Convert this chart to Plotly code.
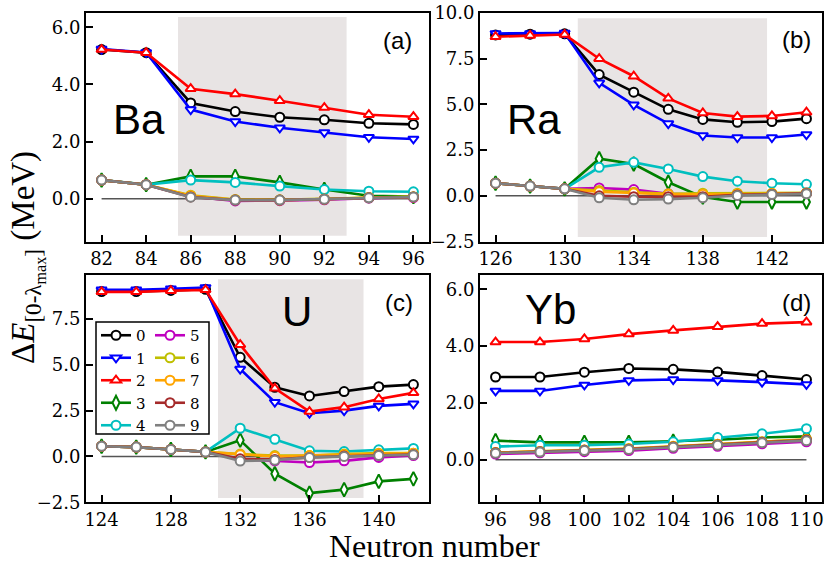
import plotly.graph_objects as go

# ---------------- data ----------------
levels = ["0", "1", "2", "3", "4", "5", "6", "7", "8", "9"]
colors = ["#000000", "#0000ff", "#ff0000", "#008000", "#00bfbf",
          "#bf00bf", "#bfbf00", "#ffa500", "#a52a2a", "#808080"]
symbols = ["circle", "triangle-down", "triangle-up", "diamond-tall", "circle",
           "circle", "circle", "circle", "circle", "circle"]

ba_n = [82, 84, 86, 88, 90, 92, 94, 96]
ba_de = [
    [5.22, 5.11, 3.35, 3.05, 2.85, 2.76, 2.64, 2.60],
    [5.24, 5.12, 3.12, 2.70, 2.48, 2.32, 2.15, 2.09],
    [5.22, 5.11, 3.85, 3.66, 3.43, 3.19, 2.94, 2.87],
    [0.65, 0.49, 0.78, 0.78, 0.57, 0.32, 0.10, 0.07],
    [0.65, 0.49, 0.65, 0.57, 0.44, 0.32, 0.26, 0.24],
    [0.65, 0.49, 0.08, -0.08, -0.07, -0.04, 0.02, 0.04],
    [0.65, 0.49, 0.12, -0.03, -0.04, -0.01, 0.04, 0.07],
    [0.65, 0.49, 0.10, -0.04, -0.05, -0.02, 0.04, 0.06],
    [0.65, 0.49, 0.06, -0.05, -0.05, -0.02, 0.03, 0.06],
    [0.65, 0.49, 0.05, -0.05, -0.05, -0.02, 0.03, 0.06],
]

ra_n = [126, 128, 130, 132, 134, 136, 138, 140, 142, 144]
ra_de = [
    [8.80, 8.84, 8.86, 6.63, 5.67, 4.73, 4.18, 4.02, 4.06, 4.22],
    [8.88, 8.88, 8.90, 6.18, 4.98, 3.95, 3.30, 3.19, 3.19, 3.35],
    [8.70, 8.77, 8.82, 7.50, 6.54, 5.33, 4.53, 4.33, 4.37, 4.57],
    [0.69, 0.53, 0.38, 2.03, 1.74, 0.74, -0.07, -0.34, -0.34, -0.34],
    [0.69, 0.53, 0.38, 1.56, 1.83, 1.47, 1.05, 0.80, 0.69, 0.63],
    [0.69, 0.53, 0.38, 0.43, 0.34, 0.11, 0.05, 0.05, 0.10, 0.15],
    [0.69, 0.53, 0.38, 0.29, 0.20, 0.11, 0.14, 0.14, 0.14, 0.16],
    [0.69, 0.53, 0.38, 0.22, 0.15, 0.08, 0.08, 0.10, 0.12, 0.14],
    [0.69, 0.53, 0.38, 0.00, -0.05, -0.05, -0.05, 0.05, 0.08, 0.13],
    [0.69, 0.53, 0.38, -0.11, -0.22, -0.18, -0.11, 0.02, 0.07, 0.11],
]

u_n = [124, 126, 128, 130, 132, 134, 136, 138, 140, 142]
u_de = [
    [9.00, 9.00, 9.06, 9.12, 5.41, 3.77, 3.30, 3.54, 3.81, 3.92],
    [9.09, 9.09, 9.15, 9.22, 4.77, 2.96, 2.36, 2.50, 2.76, 2.87],
    [8.98, 8.98, 9.04, 9.09, 6.10, 3.72, 2.45, 2.69, 3.14, 3.47],
    [0.56, 0.51, 0.38, 0.25, 0.89, -0.94, -2.00, -1.81, -1.36, -1.22],
    [0.56, 0.51, 0.38, 0.25, 1.54, 0.94, 0.31, 0.27, 0.36, 0.44],
    [0.56, 0.51, 0.38, 0.25, -0.16, -0.24, -0.33, -0.24, -0.05, 0.05],
    [0.56, 0.51, 0.38, 0.25, 0.13, 0.05, 0.05, 0.13, 0.18, 0.18],
    [0.56, 0.51, 0.38, 0.25, 0.10, 0.00, 0.05, 0.10, 0.15, 0.18],
    [0.56, 0.51, 0.38, 0.25, -0.13, -0.16, -0.05, 0.02, 0.07, 0.10],
    [0.56, 0.51, 0.38, 0.25, -0.25, -0.20, -0.05, 0.00, 0.05, 0.09],
]

yb_n = [96, 98, 100, 102, 104, 106, 108, 110]
yb_de = [
    [2.91, 2.91, 3.08, 3.21, 3.18, 3.09, 2.96, 2.82],
    [2.42, 2.42, 2.63, 2.79, 2.82, 2.79, 2.73, 2.65],
    [4.14, 4.14, 4.25, 4.42, 4.55, 4.68, 4.79, 4.84],
    [0.67, 0.61, 0.61, 0.61, 0.65, 0.70, 0.78, 0.82],
    [0.46, 0.51, 0.51, 0.55, 0.63, 0.78, 0.91, 1.09],
    [0.20, 0.24, 0.28, 0.32, 0.40, 0.47, 0.56, 0.63],
    [0.25, 0.29, 0.34, 0.39, 0.47, 0.54, 0.63, 0.72],
    [0.25, 0.29, 0.34, 0.38, 0.46, 0.54, 0.62, 0.71],
    [0.24, 0.28, 0.33, 0.37, 0.45, 0.52, 0.61, 0.69],
    [0.23, 0.27, 0.32, 0.36, 0.44, 0.51, 0.60, 0.67],
]

# shaded regions (x0, x1, y0, y1) in data units; None = no shading
ba_band = (85.43, 93.0, -1.3, 6.36)
ra_band = (130.76, 141.72, -2.25, 9.71)
u_band = (130.72, 139.12, -2.27, 9.67)
yb_band = None

ba_xticks = [82, 84, 86, 88, 90, 92, 94, 96]
ra_xticks = [126, 130, 134, 138, 142]
u_xticks = [124, 128, 132, 136, 140]
yb_xticks = [96, 98, 100, 102, 104, 106, 108, 110]
ba_yticks = [0.0, 2.0, 4.0, 6.0]
ra_yticks = [-2.5, 0.0, 2.5, 5.0, 7.5, 10.0]
u_yticks = [-2.5, 0.0, 2.5, 5.0, 7.5]
yb_yticks = [0.0, 2.0, 4.0, 6.0]

# ---------------- figure ----------------
W, H = 831, 566
SERIF = "Liberation Serif"
NUMSERIF = "DejaVu Serif"
SANS = "Liberation Sans"
TICKFONT = dict(family=NUMSERIF, size=18, color="black")

def px_x(p):
    return p / W

def px_y(p):
    return 1 - p / H

panels = [
    ("Ba", "(a)", ba_n, ba_de, ba_band, ba_xticks, ba_yticks, [81.3, 96.7], [-1.5, 6.5], (86, 429), (13, 241.5)),
    ("Ra", "(b)", ra_n, ra_de, ra_band, ra_xticks, ra_yticks, [125.1, 144.9], [-2.5, 10.0], (480, 822), (13, 241.5)),
    ("U", "(c)", u_n, u_de, u_band, u_xticks, u_yticks, [123.1, 142.9], [-2.5, 9.9], (86, 429), (275, 502.3)),
    ("Yb", "(d)", yb_n, yb_de, yb_band, yb_xticks, yb_yticks, [95.3, 110.7], [-1.5, 6.5], (480, 822), (275, 502.3)),
]

name_pos = {"Ba": (139, 120), "Ra": (534, 120), "U": (297, 311), "Yb": (550, 309)}
lab_pos = {"(a)": (397, 41), "(b)": (796, 39), "(c)": (399, 302), "(d)": (796, 302)}

fig = go.Figure()
shapes = []
annotations = []
axes = {}

for k, (name, lab, n, de, band, xt, yt, xr, yr, xd, yd) in enumerate(panels):
    sfx = "" if k == 0 else str(k + 1)
    xa, ya = "x" + sfx, "y" + sfx
    axes["xaxis" + sfx] = dict(
        domain=[px_x(xd[0]), px_x(xd[1])], anchor=ya, range=xr, automargin=False,
        tickmode="array", tickvals=xt, ticktext=[str(v) for v in xt],
        ticks="inside", ticklen=7, tickwidth=1.5, tickcolor="black",
        showline=True, linecolor="black", linewidth=1.8, mirror=True,
        showgrid=False, zeroline=False, tickfont=TICKFONT,
    )
    axes["yaxis" + sfx] = dict(
        domain=[px_y(yd[1]), px_y(yd[0])], anchor=xa, range=yr, automargin=False,
        tickmode="array", tickvals=yt,
        ticktext=[("\u2212" if v < 0 else "") + "%.1f" % abs(v) for v in yt],
        ticks="inside", ticklen=7, tickwidth=1.5, tickcolor="black",
        showline=True, linecolor="black", linewidth=1.8, mirror=True,
        showgrid=False, zeroline=False, tickfont=TICKFONT,
    )
    if band is not None:
        shapes.append(dict(type="rect", xref=xa, yref=ya, x0=band[0], x1=band[1],
                           y0=band[2], y1=band[3], fillcolor="#e8e4e4",
                           line=dict(width=0), layer="below"))
    fig.add_trace(go.Scatter(x=[n[0], n[-1]], y=[0, 0], xaxis=xa, yaxis=ya,
                             mode="lines", line=dict(color="#555555", width=1.5),
                             showlegend=False, hoverinfo="skip"))
    for i in range(len(levels)):
        fig.add_trace(go.Scatter(
            x=n, y=de[i], xaxis=xa, yaxis=ya, mode="lines+markers",
            name=levels[i],
            line=dict(color=colors[i], width=2.6),
            marker=dict(symbol=symbols[i], size=9 if symbols[i] != "diamond-tall" else 10,
                        color="white", line=dict(color=colors[i], width=2)),
            showlegend=(k == 2),
            legend="legend" if i < 5 else "legend2",
        ))
    nx, ny = name_pos[name]
    annotations.append(dict(text=name, xref="paper", yref="paper", x=px_x(nx), y=px_y(ny),
                            xanchor="center", yanchor="middle", showarrow=False,
                            font=dict(family=SANS, size=42, color="black")))
    lx, ly = lab_pos[lab]
    annotations.append(dict(text=lab, xref="paper", yref="paper", x=px_x(lx), y=px_y(ly),
                            xanchor="center", yanchor="middle", showarrow=False,
                            font=dict(family=SANS, size=24, color="black")))

annotations.append(dict(text="Neutron number", xref="paper", yref="paper",
                        x=px_x(434), y=px_y(546), xanchor="center", yanchor="middle",
                        showarrow=False, font=dict(family=SERIF, size=32, color="black")))
annotations.append(dict(text="Δ<i>E</i><sub>[0-λ<sub>max</sub>]</sub> (MeV)",
                        xref="paper", yref="paper", x=px_x(27), y=px_y(258),
                        xanchor="center", yanchor="middle", textangle=-90,
                        showarrow=False, font=dict(family=SERIF, size=33, color="black")))

# legend frame
shapes.append(dict(type="rect", xref="paper", yref="paper",
                   x0=px_x(96), x1=px_x(209), y0=px_y(434), y1=px_y(322),
                   line=dict(color="black", width=1.5), fillcolor="white", layer="below"))

LEGFONT = dict(family=NUMSERIF, size=15, color="black")

fig.update_layout(
    template="none",
    width=W, height=H, margin=dict(l=0, r=0, t=0, b=0, pad=0),
    paper_bgcolor="white", plot_bgcolor="rgba(0,0,0,0)",
    font=dict(family=SERIF, size=20, color="black"),
    shapes=shapes, annotations=annotations,
    legend=dict(x=px_x(96), y=px_y(319), xanchor="left", yanchor="top",
                bgcolor="rgba(0,0,0,0)", borderwidth=0, font=LEGFONT,
                itemwidth=30, tracegroupgap=0),
    legend2=dict(x=px_x(150), y=px_y(319), xanchor="left", yanchor="top",
                 bgcolor="rgba(0,0,0,0)", borderwidth=0, font=LEGFONT,
                 itemwidth=30, tracegroupgap=0),
    **axes,
)

fig.write_html("out.html", config={"displayModeBar": False},
               post_script="document.body.style.margin='0px';")
